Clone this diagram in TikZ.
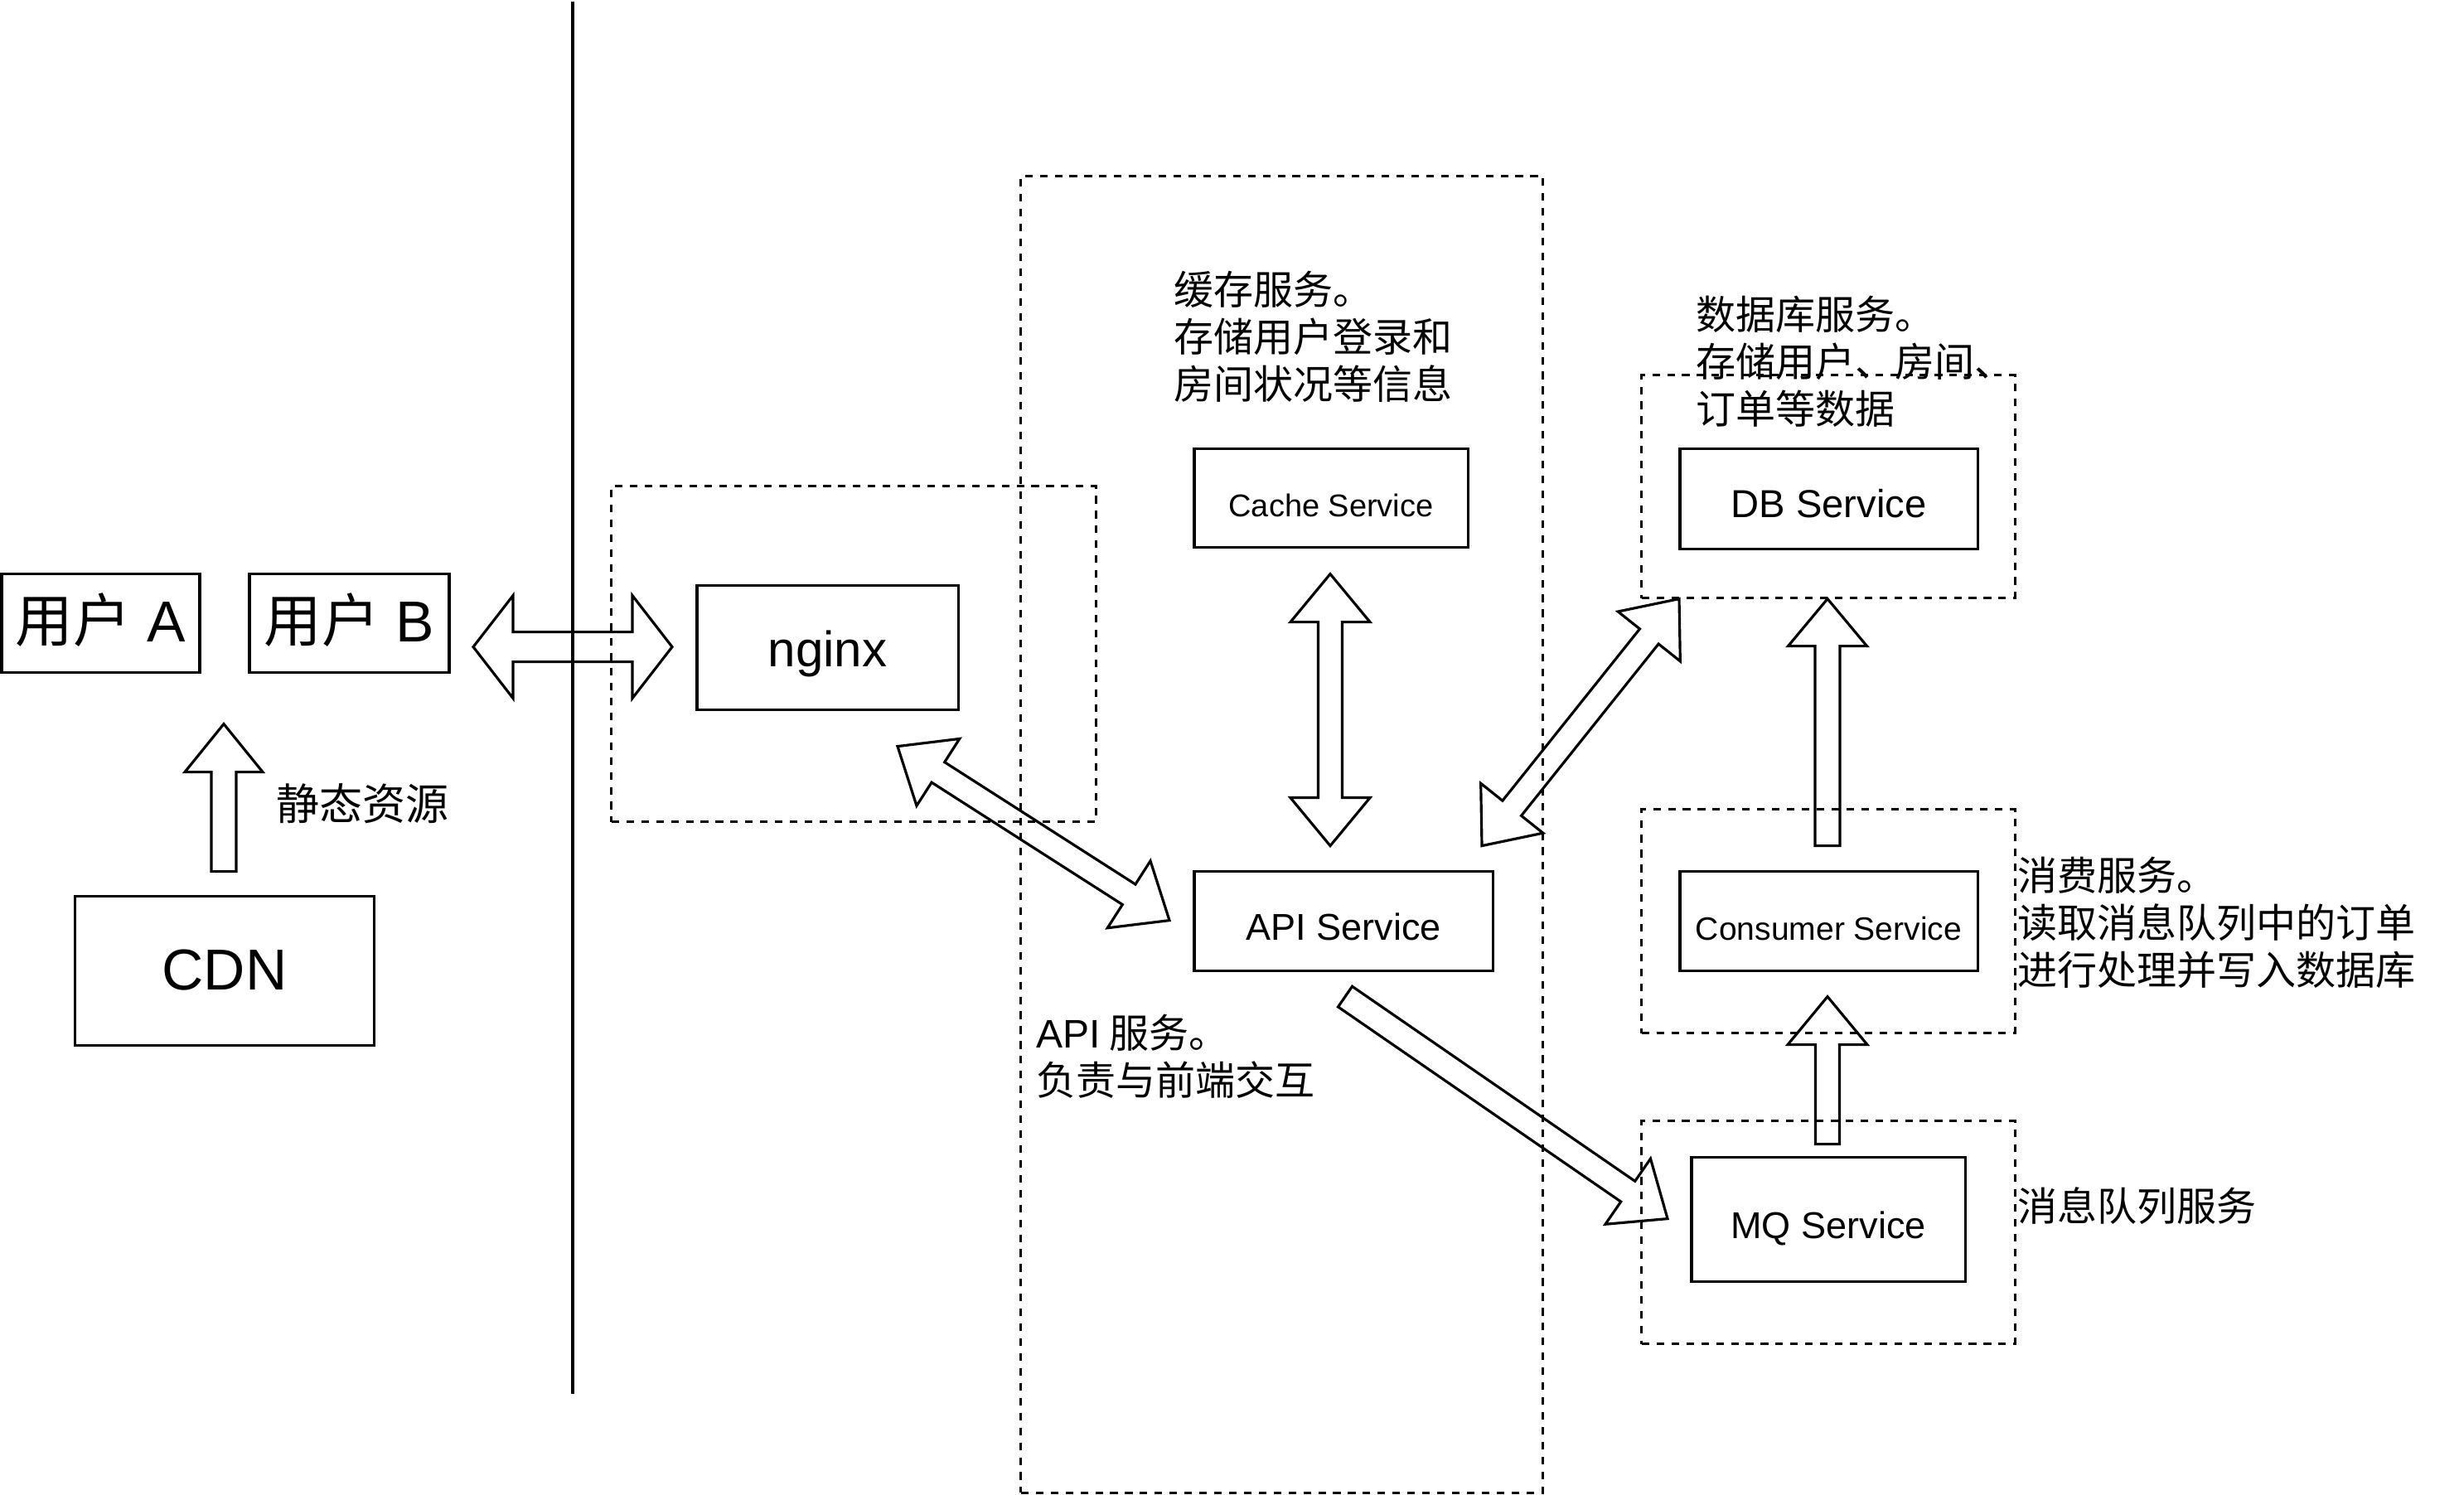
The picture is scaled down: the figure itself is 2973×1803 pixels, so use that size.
\documentclass[tikz,border=0pt]{standalone}
\usepackage{fontspec}
\setmainfont{Liberation Sans}
\newfontfamily\cjk{Noto Sans CJK SC}
\newfontfamily\lat{Liberation Sans}
\usetikzlibrary{calc}
% #1 tail, #2 tip, #3 head length, #4 head half width, #5 shaft half width
\newcommand\OneWayArrow[5]{%
  \draw[blk] ($(#1)!#5!90:(#2)$) -- ($(#2)!#3!(#1)!#5!90:(#2)$) -- ($(#2)!#3!(#1)!#4!90:(#2)$) -- (#2)
    -- ($(#2)!#3!(#1)!#4!-90:(#2)$) -- ($(#2)!#3!(#1)!#5!-90:(#2)$) -- ($(#1)!#5!-90:(#2)$) -- cycle;}
\newcommand\TwoWayArrow[5]{%
  \draw[blk] (#1) -- ($(#1)!#3!(#2)!#4!90:(#2)$) -- ($(#1)!#3!(#2)!#5!90:(#2)$)
    -- ($(#2)!#3!(#1)!#5!90:(#2)$) -- ($(#2)!#3!(#1)!#4!90:(#2)$) -- (#2)
    -- ($(#2)!#3!(#1)!#4!-90:(#2)$) -- ($(#2)!#3!(#1)!#5!-90:(#2)$)
    -- ($(#1)!#3!(#2)!#5!-90:(#2)$) -- ($(#1)!#3!(#2)!#4!-90:(#2)$) -- cycle;}
\newcommand\FirstLn{\rule{0pt}{0.47cm}}
\begin{document}
\begin{tikzpicture}[x=0.01cm, y=-0.01cm, line width=0.9pt,
  box/.style={draw, rectangle, inner sep=0pt, align=center, text height=0.5cm, text depth=0.05cm},
  grp/.style={draw, rectangle, inner sep=0pt, dash pattern=on 2.6pt off 2.5pt},
  blk/.style={draw, line join=miter, miter limit=20},
  note/.style={anchor=north west, inner sep=0pt, align=left, font=\cjk\fontsize{13.66}{16.2}\selectfont},
  fbig/.style={font=\fontsize{19.8}{23}\selectfont},
  fng/.style={font=\fontsize{17.1}{20}\selectfont},
  fmid/.style={font=\fontsize{12.8}{15}\selectfont},
  fsmall/.style={font=\fontsize{10.8}{13}\selectfont}]
\fill[white] (0,0) rectangle (2973,1803);

% dashed groups
\node[grp, minimum width=5.84cm, minimum height=4.05cm] (nginxG) at (1030,788.5) {};
\node[grp, minimum width=6.29cm, minimum height=15.88cm] (apiG) at (1546.5,1006) {};
\node[grp, minimum width=4.50cm, minimum height=2.69cm] (dbG) at (2206,586.5) {};
\node[grp, minimum width=4.50cm, minimum height=2.70cm] (consG) at (2206,1111) {};
\node[grp, minimum width=4.50cm, minimum height=2.69cm] (mqG) at (2206,1486.5) {};

% separator line
\coordinate (sepTop) at (691,1);
\coordinate (sepBot) at (691,1681);
\draw (sepTop) -- (sepBot);

% boxes
\node[box, fbig, minimum width=2.39cm, minimum height=1.19cm] (userA) at (121.5,751.5) {{\cjk 用户} A};
\node[box, fbig, minimum width=2.41cm, minimum height=1.19cm] (userB) at (421.5,751.5) {{\cjk 用户} B};
\node[box, fbig, minimum width=3.60cm, minimum height=1.80cm] (cdn) at (271,1171) {CDN};
\node[box, fng, minimum width=3.15cm, minimum height=1.50cm] (nginx) at (998.5,781) {nginx};
\node[box, fsmall, minimum width=3.30cm, minimum height=1.19cm] (cache) at (1606,600.5) {Cache Service};
\node[box, fmid, minimum width=3.60cm, minimum height=1.20cm] (api) at (1621,1111) {API Service};
\node[box, font=\fontsize{13.4}{16}\selectfont, minimum width=3.59cm, minimum height=1.21cm] (db) at (2206.5,601.5) {DB Service};
\node[box, font=\fontsize{11.1}{13}\selectfont, minimum width=3.59cm, minimum height=1.20cm] (cons) at (2206.5,1111) {Consumer Service};
\node[box, fmid, minimum width=3.30cm, minimum height=1.50cm] (mq) at (2206,1471) {MQ Service};

% block arrows
\coordinate (cdnT) at (270,1051);  \coordinate (cdnH) at (270,873);
\OneWayArrow{cdnT}{cdnH}{0.58cm}{0.47cm}{0.15cm}
\coordinate (ugA) at (571,780);   \coordinate (ugB) at (811,780);
\TwoWayArrow{ugA}{ugB}{0.48cm}{0.62cm}{0.18cm}
\coordinate (naA) at (1083,900);  \coordinate (naB) at (1411,1110);
\TwoWayArrow{naA}{naB}{0.58cm}{0.48cm}{0.145cm}
\coordinate (caA) at (1605,692);  \coordinate (caB) at (1605,1020);
\TwoWayArrow{caA}{caB}{0.58cm}{0.48cm}{0.145cm}
\coordinate (adA) at (1788,1020); \coordinate (adB) at (2026,722);
\TwoWayArrow{adA}{adB}{0.58cm}{0.48cm}{0.145cm}
\coordinate (cdT) at (2205,1020); \coordinate (cdH) at (2205,722);
\OneWayArrow{cdT}{cdH}{0.57cm}{0.475cm}{0.15cm}
\coordinate (amT) at (1623,1202); \coordinate (amH) at (2012,1470);
\OneWayArrow{amT}{amH}{0.58cm}{0.48cm}{0.15cm}
\coordinate (mcT) at (2205,1380); \coordinate (mcH) at (2205,1202);
\OneWayArrow{mcT}{mcH}{0.58cm}{0.48cm}{0.145cm}

% notes
\node[note, font=\cjk\fontsize{14.8}{17.5}\selectfont] (staticTxt) at (332,940) {\FirstLn 静态资源};
\node[note] (cacheTxt) at (1415,318) {\FirstLn 缓存服务。\\存储用户登录和\\房间状况等信息};
\node[note] (dbTxt) at (2045,348) {\FirstLn 数据库服务。\\存储用户、房间、\\订单等数据};
\node[note] (consTxt) at (2433,1025) {\FirstLn 消费服务。\\读取消息队列中的订单\\进行处理并写入数据库};
\node[note] (mqTxt) at (2433,1424) {\FirstLn 消息队列服务};
\node[note] (apiTxt) at (1249,1215) {\FirstLn{\lat API} 服务。\\负责与前端交互};
\end{tikzpicture}
\end{document}
